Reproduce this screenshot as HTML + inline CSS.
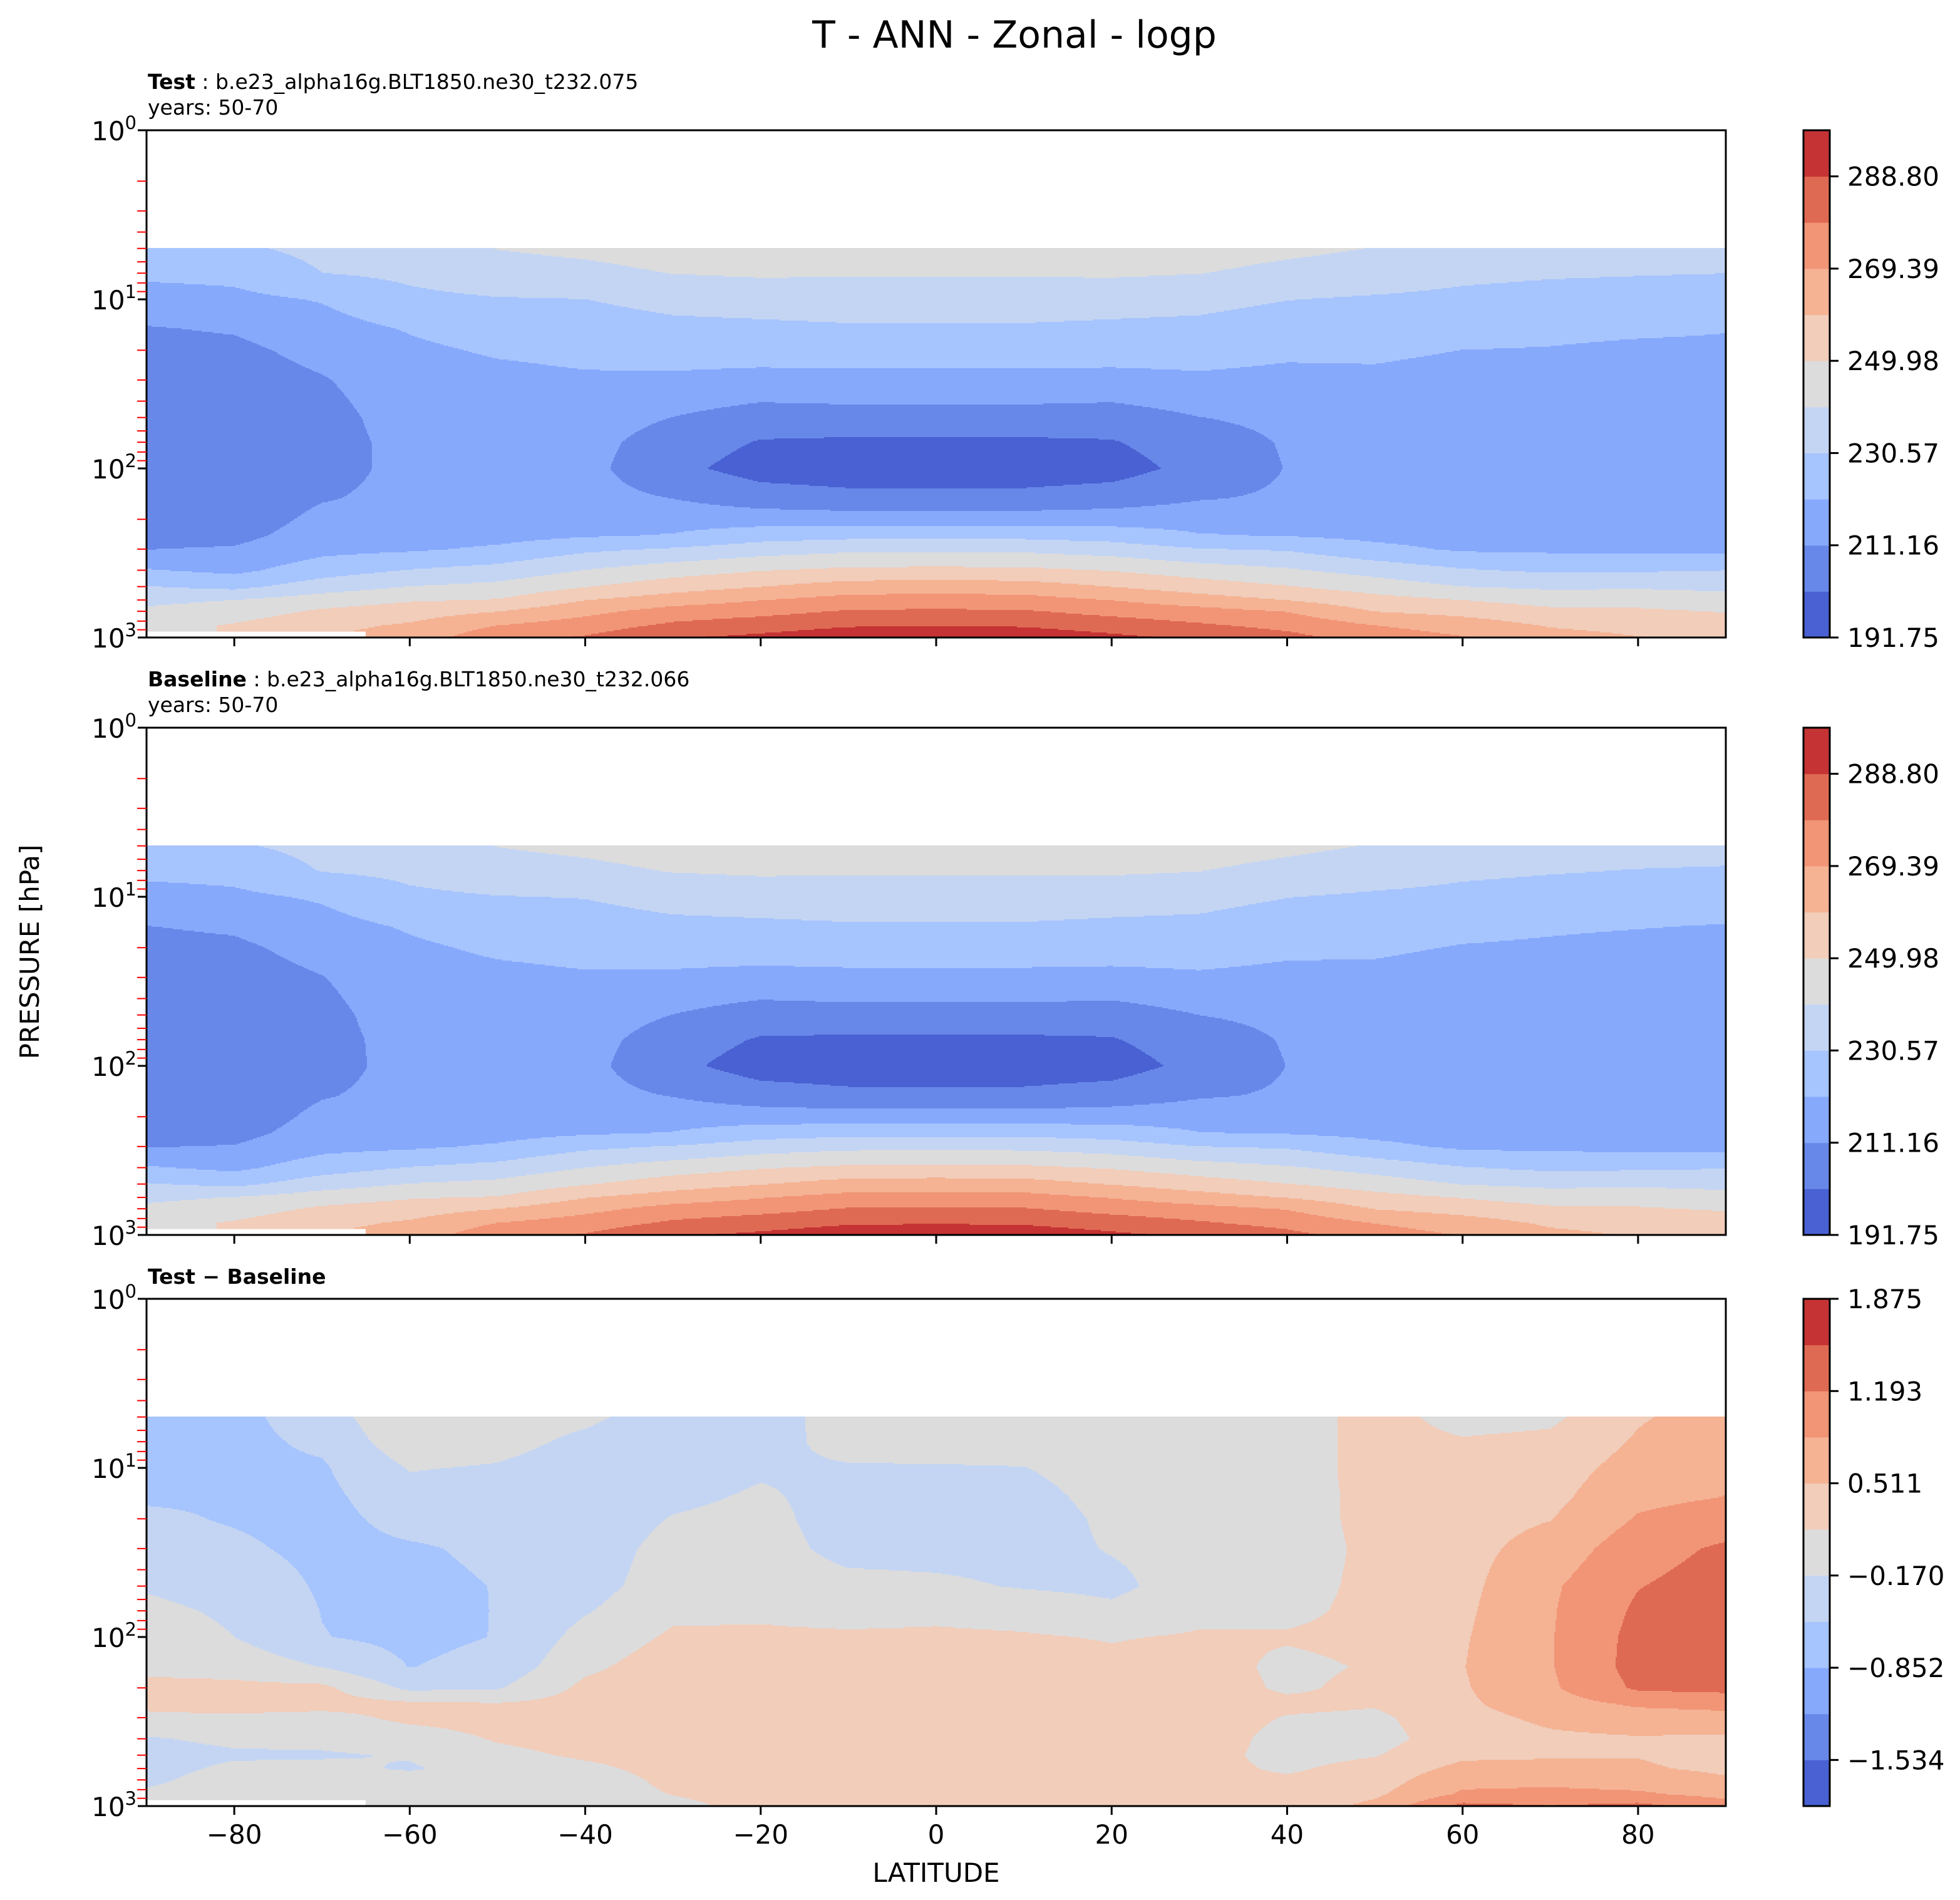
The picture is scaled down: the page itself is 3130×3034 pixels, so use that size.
<!DOCTYPE html>
<html><head><meta charset="utf-8"><style>
html,body{margin:0;padding:0;background:#fff;}
svg{display:block;font-family:"DejaVu Sans","Liberation Sans",sans-serif;}
</style></head><body>
<svg id="fig" width="3130" height="3034" viewBox="0 0 3130 3034" xmlns="http://www.w3.org/2000/svg">
<rect width="3130" height="3034" fill="#fff"/>
<text x="1620" y="76" font-size="60" text-anchor="middle">T - ANN - Zonal - logp</text>
<text x="236" y="142" font-size="33"><tspan font-weight="bold">Test</tspan> : b.e23_alpha16g.BLT1850.ne30_t232.075</text>
<text x="236" y="183" font-size="33">years: 50-70</text>
<text x="236" y="1096" font-size="33"><tspan font-weight="bold">Baseline</tspan> : b.e23_alpha16g.BLT1850.ne30_t232.066</text>
<text x="236" y="1137" font-size="33">years: 50-70</text>
<text x="236" y="2050" font-size="33" font-weight="bold">Test − Baseline</text>
<text x="1495" y="3005" font-size="42" text-anchor="middle">LATITUDE</text>
<text x="0" y="0" font-size="42" text-anchor="middle" transform="translate(62,1520) rotate(-90)">PRESSURE [hPa]</text>
</svg>
<script>
const lats = [-90,-80,-70,-60,-50,-40,-30,-20,-10,0,10,20,30,40,50,60,70,80,90];
const levels = [5,7,10,15,20,30,50,70,100,150,200,250,300,400,500,600,700,850,1000];
const testT = [
[227,223,216.5,210.5,208,205.5,204,203.5,203.5,204,205.5,208,211,221.5,231,238,242,246,null],
[229,223.5,218.5,212,209,206.5,205,204.5,204.5,205,206,208.5,212,218.5,228,240.3,245,251,null],
[233,230.5,221.5,217,214,210.5,208,207.5,208,210.5,213.5,215.5,218,226,235.5,245,251.5,257,null],
[235,232.5,228.5,221.5,219,216.5,215,214,213.5,213.5,214.5,216.5,219.5,231,240.5,249,255,261,264],
[240.5,236,230,225.5,222,218,215,214,213.5,213.5,214.5,217.5,222.5,234,243,250.5,259.5,269.5,276],
[242.5,237.5,230.5,226,223.5,219.5,216,214.5,214,214.5,216.5,220,228.5,240.5,249.5,259.5,266.5,274.5,280],
[245,240.5,233.5,228,224.5,219.3,211,206.5,204,211,217,221.5,231.5,245.5,255.5,264.5,273.5,281,288],
[245.5,241.5,234.5,228.6,224.8,218,206.5,200.8,197.5,206,216.5,226.5,235.5,249.5,259.5,269.2,276,284.5,291],
[246,241,235.5,229.3,224.8,218.5,207.2,200,196.5,204,216,228,238,252,264,273,280,288,295],
[246,241,235.5,229.3,224.8,218.5,207.2,200,196.5,204,216,228,238,252.5,264.5,273.5,280.5,288.5,296],
[246,241,235.5,229.3,224.8,218.5,207.2,200,196.5,204,216,228,238,252,264,273,280,288,295],
[245.5,241.5,234.5,228.6,224.8,218,206.5,200.8,197.5,206,216.5,226.5,235.5,249.5,259.5,269.2,276,284.5,291],
[245,240.5,233.5,228,224.5,219.3,211,206.5,204.5,210.5,217,221.5,231,245,255,264,273,280.5,287],
[242.5,237.5,230.8,225.5,222.5,218.5,213.5,212,211.5,212.5,216,220.5,229.5,241.5,250.5,259.5,269,276.5,282],
[240,235.5,229.5,225,222.5,219,216,215,214.5,214.5,215.5,218.5,223.5,236.5,245.5,253.5,259.5,269.5,275],
[235.5,232.5,228.5,223.5,220.8,217.5,215,214,213.5,213.5,214.5,217,219.5,231.5,240.3,250,256.5,265,270],
[235,231.5,227.5,222.5,220.5,217.5,215,214,213.5,213.5,214.5,216.5,219,229,238.5,246,252.5,259,263],
[234.5,231,227,222,219.5,217,215,214,213.5,213.5,214.5,216,218.5,229.5,239,246.5,251.5,257,260],
[234,230.6,226.5,221.2,219.5,217,215,214,213.5,213.5,214.5,216,218,230.5,238,244,249.5,255,258]
];
const baseT = [
[227.5,223.5,217,211,208.3,205.8,204.2,203.6,203.5,203.9,205.2,207.8,210.8,221.8,231.3,238.3,242,246,null],
[229.5,224,219,212.5,209.4,206.8,205.2,204.6,204.5,204.9,205.8,208.2,211.6,218.6,228.3,240.6,245.2,251,null],
[233.3,231,222,217.5,214.4,210.9,208.5,207.9,208.2,210.6,213.4,215.3,217.8,226.1,235.7,245.2,251.6,257,null],
[235,232.8,228.8,221.8,219.3,217,215.6,214.6,213.9,213.6,214.3,216.2,219.2,231,240.6,249.1,255,261,264],
[240.5,236.2,230.3,225.9,222.4,218.5,215.5,214.5,214,213.9,214.3,217.2,222.2,233.9,243,250.6,259.6,269.5,275.8],
[242.6,237.8,230.9,226.4,223.9,219.8,216.3,214.7,214.1,214.4,216.3,219.8,228.3,240.3,249.3,259.3,266.3,274.3,279.8],
[245.3,240.8,233.9,228.3,224.7,219.4,211,206.4,203.9,210.8,216.8,221.3,231.2,245.2,255.2,264.2,273.2,280.7,287.6],
[245.8,241.8,234.8,228.9,225,218.1,206.4,200.6,197.2,205.7,216.2,226.2,235.2,249.2,259.2,268.9,275.7,284.2,290.7],
[246.1,241.2,235.8,229.6,225.1,218.8,207.3,200,196.3,203.7,215.7,227.7,237.7,251.7,263.7,272.7,279.7,287.7,294.7],
[246.1,241.2,235.8,229.6,225.1,218.8,207.3,200,196.3,203.7,215.7,227.7,237.7,252.2,264.2,273.2,280.2,288.2,295.7],
[246.1,241.2,235.8,229.6,225.1,218.8,207.3,200,196.3,203.7,215.7,227.7,237.7,251.7,263.7,272.7,279.7,287.7,294.7],
[245.6,241.6,234.6,228.8,225.1,218.3,206.6,200.8,197.3,205.7,216.2,226.2,235.2,249.2,259.2,268.9,275.7,284.2,290.7],
[245,240.5,233.6,228.3,224.8,219.6,211.2,206.6,204.3,210.2,216.7,221.2,230.7,244.7,254.7,263.7,272.7,280.2,286.7],
[242.5,237.5,230.8,225.5,222.6,218.6,213.4,211.9,211.3,212.3,215.8,220.3,229.3,241.3,250.3,259.3,268.8,276.2,281.7],
[239.7,235.2,229.2,224.7,222.2,218.7,215.7,214.7,214.2,214.3,215.3,218.3,223.4,236.4,245.4,253.3,259.3,269.1,274.5],
[235.4,232.3,228.2,223.1,220.4,217.1,214.6,213.6,213.1,213,214,216.6,219.1,231.1,239.9,249.5,255.8,264.2,268.8],
[234.8,231.2,227.1,221.9,219.7,216.8,214.2,213.2,212.7,212.7,213.8,215.9,218.5,228.5,237.9,245.4,251.8,258.2,262],
[234,230.3,226.3,221.2,218.6,216,213.9,212.8,212.2,212.2,213.3,215.3,218.1,229.1,238.5,246,250.9,256.3,258.9],
[233.4,229.9,225.7,220.4,218.4,215.8,213.7,212.6,212.1,212.1,213.3,215.2,217.6,230.1,237.6,243.6,249,254.4,257]
];
const diffT = [
[-0.6,-0.62,-0.6,-0.55,-0.45,-0.35,-0.2,-0.1,0,0.1,0.25,0.25,0.1,-0.2,-0.3,-0.3,-0.25,-0.1,null],
[-0.6,-0.6,-0.58,-0.55,-0.54,-0.45,-0.3,-0.22,-0.17,0.05,0.25,0.3,0.12,-0.1,-0.22,-0.1,0,0,null],
[-0.35,-0.45,-0.55,-0.6,-0.62,-0.6,-0.55,-0.52,-0.5,-0.18,0.25,0.3,0.05,-0.1,-0.2,-0.1,0,0,null],
[0.15,0.05,-0.15,-0.3,-0.4,-0.55,-0.6,-0.62,-0.6,-0.52,-0.25,0.25,0.25,0,-0.15,-0.2,-0.05,0,0],
[0,-0.05,-0.2,-0.35,-0.4,-0.45,-0.5,-0.5,-0.5,-0.4,-0.2,0.2,0.3,0.2,0.08,-0.05,-0.05,0,-0.1],
[-0.1,-0.25,-0.35,-0.4,-0.4,-0.35,-0.3,-0.2,-0.05,0.1,0.25,0.3,0.35,0.3,0.22,0.1,0,0,0],
[-0.35,-0.38,-0.35,-0.25,-0.15,-0.05,0,0.1,0.22,0.35,0.35,0.35,0.35,0.33,0.3,0.28,0.25,0.18,0.1],
[-0.35,-0.3,-0.22,-0.12,-0.05,0,0.05,0.12,0.22,0.3,0.35,0.35,0.35,0.35,0.33,0.3,0.3,0.28,0.25],
[0,-0.05,-0.2,-0.3,-0.35,-0.3,-0.05,0.05,0.22,0.3,0.33,0.35,0.35,0.35,0.33,0.3,0.28,0.25,0.22],
[0.05,0,-0.2,-0.3,-0.35,-0.3,-0.1,0.1,0.22,0.3,0.33,0.35,0.35,0.35,0.33,0.3,0.28,0.25,0.2],
[0.05,0,-0.18,-0.3,-0.35,-0.3,-0.2,0.05,0.2,0.3,0.33,0.35,0.35,0.35,0.33,0.3,0.28,0.27,0.25],
[0.1,0.05,0,-0.05,-0.1,-0.15,-0.25,-0.1,0.15,0.25,0.3,0.33,0.35,0.35,0.33,0.32,0.3,0.3,0.3],
[0.05,0.05,0,-0.05,-0.05,-0.05,0,0.1,0.2,0.3,0.33,0.35,0.35,0.35,0.3,0.28,0.28,0.3,0.3],
[0,0,0,0,0,0,0.05,0.1,0.2,0.1,0.12,0.25,0.15,0.05,0.05,0.12,0.22,0.3,0.3],
[0.3,0.3,0.3,0.28,0.28,0.25,0.25,0.25,0.25,0.2,0.25,0.2,0.1,0.05,0.15,0.3,0.35,0.45,0.6],
[0.05,0.2,0.3,0.35,0.38,0.4,0.42,0.45,0.48,0.5,0.48,0.45,0.4,0.35,0.45,0.6,0.75,0.9,1.3],
[0.1,0.25,0.35,0.42,0.5,0.65,0.8,0.82,0.83,0.83,0.8,0.7,0.58,0.45,0.48,0.6,0.75,0.95,1.2],
[0.48,0.55,0.65,0.78,0.88,1.05,1.18,1.25,1.3,1.32,1.25,0.9,0.7,0.48,0.5,0.55,0.7,0.9,1.3],
[0.65,0.7,0.78,0.86,1,1.25,1.35,1.38,1.4,1.38,1.3,0.95,0.75,0.45,0.4,0.45,0.55,0.75,1.0]
];
const xTicks = [-80,-60,-40,-20,0,20,40,60,80];
const absTickLabels = ["191.75","211.16","230.57","249.98","269.39","288.80"];
const diffTickLabels = ["−1.534","−0.852","−0.170","0.511","1.193","1.875"];

const NS = "http://www.w3.org/2000/svg";
const svg = document.getElementById('fig');
const COLORS = ["#4961d2","#6788e9","#86a9fc","#a6c4fe","#c4d5f3","#dcdcdd","#f1cdba","#f5b394","#f19576","#df6a53","#c53334"];
const X0 = 234, X1 = 2756, W = X1 - X0, H = 810;
const CBX = 2880, CBW = 42;
const logLev = levels.map(p => Math.log10(p));
function xScale(lat){ return X0 + (lat + 90) / 180 * W; }
function mk(tag, attrs, parent){ const e = document.createElementNS(NS, tag); for (const k in attrs) e.setAttribute(k, attrs[k]); (parent||svg).appendChild(e); return e; }

function sample(data, lat, lp){
  let i = 0; while (i < lats.length - 2 && lat > lats[i+1]) i++;
  let j = 0; while (j < logLev.length - 2 && lp > logLev[j+1]) j++;
  const fx = Math.min(1, Math.max(0, (lat - lats[i]) / (lats[i+1] - lats[i])));
  const fy = Math.min(1, Math.max(0, (lp - logLev[j]) / (logLev[j+1] - logLev[j])));
  const ni = fx < 0.5 ? i : i + 1, nj = fy < 0.5 ? j : j + 1;
  if (data[ni][nj] === null) return null;
  const c = [[i,j,(1-fx)*(1-fy)],[i+1,j,fx*(1-fy)],[i,j+1,(1-fx)*fy],[i+1,j+1,fx*fy]];
  let s = 0, w = 0;
  for (const [a,b,wt] of c){ const v = data[a][b]; if (v !== null){ s += v*wt; w += wt; } }
  return w > 0 ? s / w : null;
}

function drawPanel(top, data, vmin, step, name, tickLabels, showXLabels){
  const g = mk('g', {});
  
  
  const minLp = Math.log10(levels[0]);
  const dy = 2, dx = 2;
  for (let py = top; py < top + H; py += dy){
    const lp = (py + dy/2 - top) / H * 3;
    if (lp < minLp) continue;
    let runStart = -1, runBand = -1;
    const flush = (endX) => {
      if (runBand >= 0){
        const r = mk('rect', {x: runStart, y: py, width: endX - runStart + 0.6, height: dy + 0.6, fill: COLORS[runBand]}, g);
        
        
      }
    };
    for (let px = X0; px < X1; px += dx){
      const lat = -90 + (px + dx/2 - X0) / W * 180;
      const v = sample(data, lat, lp);
      let band = -1;
      if (v !== null) band = Math.max(0, Math.min(10, Math.floor((v - vmin) / step)));
      if (band !== runBand){ flush(px); runStart = px; runBand = band; }
    }
    flush(X1);
  }
  const fr = mk('rect', {x: X0, y: top, width: W, height: H, fill: 'none', stroke: '#000', 'stroke-width': 3});
  
  
  for (let d = 0; d <= 3; d++){
    const y = top + d / 3 * H;
    const t = mk('line', {x1: X0 - 14, x2: X0, y1: y, y2: y, stroke: '#000', 'stroke-width': 3});
    
    
    const lb = mk('text', {x: 218, y: y + 16, 'font-size': 42, 'text-anchor': 'end'});
    
    
    lb.textContent = '10';
    const sup = document.createElementNS(NS, 'tspan');
    sup.setAttribute('dy', -18); sup.setAttribute('font-size', 29);
    sup.textContent = String(d);
    lb.appendChild(sup);
    if (d < 3){
      for (let m = 2; m <= 9; m++){
        const ym = top + (d + Math.log10(m)) / 3 * H;
        const mt = mk('line', {x1: X0 - 15, x2: X0, y1: ym, y2: ym, stroke: '#ff0000', 'stroke-width': 2});
        
        
      }
    }
  }
  xTicks.forEach(v => {
    const x = xScale(v);
    const t = mk('line', {x1: x, x2: x, y1: top + H, y2: top + H + 14, stroke: '#000', 'stroke-width': 3});
    
    
    if (showXLabels){
      const l = mk('text', {x: x, y: top + H + 60, 'font-size': 42, 'text-anchor': 'middle'});
      
      
      l.textContent = v < 0 ? '−' + Math.abs(v) : String(v);
    }
  });
  const cb = mk('g', {});
  
  
  const bh = H / 11;
  for (let k = 0; k < 11; k++){
    const r = mk('rect', {x: CBX, y: top + H - (k+1)*bh, width: CBW, height: bh + 0.5, fill: COLORS[k]}, cb);
    
    
  }
  mk('rect', {x: CBX, y: top, width: CBW, height: H, fill: 'none', stroke: '#000', 'stroke-width': 3}, cb);
  tickLabels.forEach((txt, n) => {
    const k = name === 'diff' ? 2*n + 1 : 2*n;
    const y = top + H - k * bh;
    mk('line', {x1: CBX + CBW, x2: CBX + CBW + 14, y1: y, y2: y, stroke: '#000', 'stroke-width': 3}, cb);
    const l = mk('text', {x: CBX + CBW + 28, y: y + 15, 'font-size': 42}, cb);
    
    
    l.textContent = txt;
  });
}
drawPanel(208, testT, 191.75, 9.705, 'test', absTickLabels, false);
drawPanel(1162, baseT, 191.75, 9.705, 'baseline', absTickLabels, false);
drawPanel(2074, diffT, -1.875, 0.3409, 'diff', diffTickLabels, true);
</script>
</body></html>
